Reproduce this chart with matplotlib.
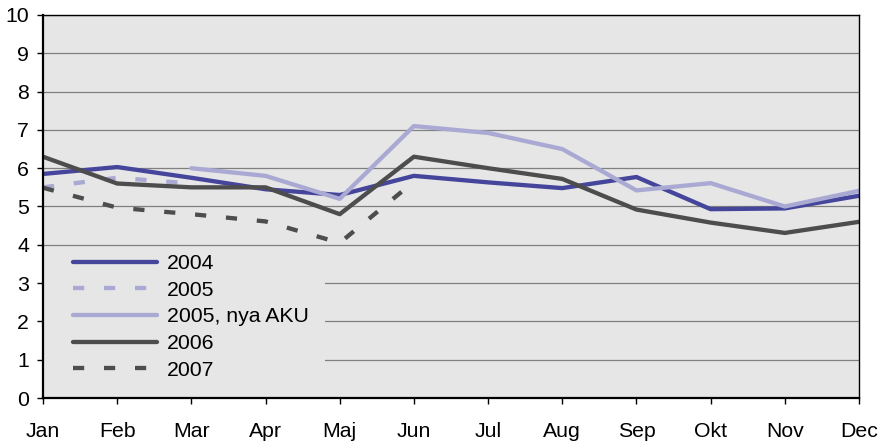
import matplotlib.pyplot as plt
from matplotlib.patches import Rectangle
import numpy as np

months = ["Jan", "Feb", "Mar", "Apr", "Maj", "Jun",
          "Jul", "Aug", "Sep", "Okt", "Nov", "Dec"]

v2004 = [5.85, 6.03, 5.75, 5.45, 5.3, 5.8, 5.63, 5.48, 5.77, 4.93, 4.95, 5.28]
v2005 = [5.5, 5.75, 5.6]
v2005_aku = [6.0, 5.8, 5.2, 7.1, 6.92, 6.5, 5.42, 5.61, 5.0, 5.41]
v2006 = [6.3, 5.6, 5.5, 5.5, 4.8, 6.3, 6.0, 5.72, 4.92, 4.58, 4.31, 4.6]
v2007 = [5.49, 4.97, 4.8, 4.61, 4.05, 5.65]

plt.rcParams["font.family"] = ["Liberation Sans", "DejaVu Sans"]

fig = plt.figure(figsize=(8.8, 4.42), dpi=100)
ax = fig.add_axes([43 / 880, 1 - 398 / 442, (859 - 43) / 880, (398 - 15) / 442])
ax.set_facecolor("#e6e6e6")

x = np.arange(len(months))
lw = 3.1
ax.plot(x, v2004, color="#45459c", lw=lw, solid_capstyle="round", label="2004")
ax.plot(x[:len(v2005)], v2005, color="#a9a9d3", lw=lw, dashes=(2.6, 4.6),
        dash_capstyle="butt", label="2005")
ax.plot(x[2:2 + len(v2005_aku)], v2005_aku, color="#a9a9d3", lw=lw,
        solid_capstyle="round", label="2005, nya AKU")
ax.plot(x, v2006, color="#4d4d4d", lw=lw, solid_capstyle="round", label="2006")
ax.plot(x[:len(v2007)], v2007, color="#4d4d4d", lw=lw, dashes=(2.6, 4.6),
        dash_capstyle="butt", label="2007")

ax.set_xlim(0, 11)
ax.set_ylim(0, 10)
ax.set_xticks(x)
ax.set_xticklabels(months)
ax.set_yticks(range(0, 11))
ax.yaxis.grid(True, color="#808080", lw=0.9)
ax.set_axisbelow(True)

ax.tick_params(axis="x", direction="out", length=4, width=1, pad=13, labelsize=15.3)
ax.tick_params(axis="y", direction="out", length=4, width=1, pad=6, labelsize=15.3)
for side in ["left", "bottom"]:
    ax.spines[side].set_linewidth(1.6)
for side in ["top", "right"]:
    ax.spines[side].set_linewidth(1.0)
for s in ax.spines.values():
    s.set_color("black")

# legend background hides the gridlines behind it
ax.add_patch(Rectangle((0, 0), 0.346, 0.39, transform=ax.transAxes,
                       facecolor="#e6e6e6", edgecolor="none", zorder=1))

leg = ax.legend(loc="lower left", bbox_to_anchor=(0.037, 0.048), fontsize=15.3,
                frameon=False, handlelength=3.95, handletextpad=0.47,
                labelspacing=0.36, borderpad=0, borderaxespad=0)

fig.savefig("out.png", dpi=100)
